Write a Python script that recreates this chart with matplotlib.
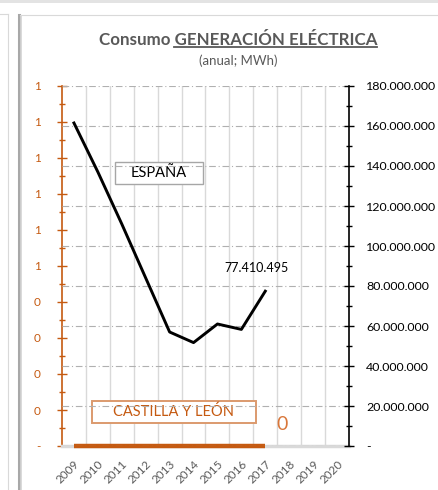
import math
import matplotlib
matplotlib.use("Agg")
import matplotlib.pyplot as plt
from matplotlib.lines import Line2D
from matplotlib.patches import Rectangle
from matplotlib.ticker import MultipleLocator, FixedLocator, FuncFormatter

plt.rcParams['font.family'] = ['Lato', 'DejaVu Sans']

years = [str(y) for y in range(2009, 2021)]
espana = [161.5e6, 137.0e6, 111.0e6, 84.0e6, 57.0e6, 51.7e6, 61.0e6, 58.3e6, 77410495]
castilla = [0, 0, 0, 0, 0, 0, 0, 0, 0]
espana_label = "77.410.495"
castilla_label = "0"

ORANGE = "#C55A11"
GREY_TXT = "#595959"

W, H = 439, 490
fig = plt.figure(figsize=(W / 100, H / 100), dpi=100)

# panel decorations (screenshot frame)
fig.add_artist(Rectangle((0, 1 - 3 / H), 1, 3 / H, transform=fig.transFigure, color="#e3e3e3", lw=0))
fig.add_artist(Line2D([8 / W, 8 / W], [0, 1 - 14 / H], transform=fig.transFigure, color="#d9d9d9", lw=0.8))
fig.add_artist(Line2D([0, 8 / W], [1 - 14 / H, 1 - 14 / H], transform=fig.transFigure, color="#d9d9d9", lw=0.8))
fig.add_artist(Line2D([19.5 / W, 19.5 / W], [0, 1 - 15 / H], transform=fig.transFigure, color="#a8a8a8", lw=2.2))
fig.add_artist(Line2D([21.5 / W, 21.5 / W], [0, 1 - 16 / H], transform=fig.transFigure, color="#d4d4d4", lw=1.2))
fig.add_artist(Line2D([20 / W, 1], [1 - 15 / H, 1 - 15 / H], transform=fig.transFigure, color="#d9d9d9", lw=0.8))

ax = fig.add_axes([62 / W, 44 / H, 287 / W, 360 / H])
axr = ax.twinx()

x = list(range(len(espana)))

# Castilla y León on the left (secondary) axis
ax.plot(range(len(castilla)), castilla, color=ORANGE, lw=3.2, solid_capstyle="butt", zorder=5, clip_on=False)
ax.set_ylim(0, 1)
ax.set_xlim(-0.5, len(years) - 0.5)
ax.yaxis.set_major_locator(MultipleLocator(0.1))
ax.yaxis.set_minor_locator(MultipleLocator(0.05))


def left_fmt(v, pos):
    if abs(v) < 1e-9:
        return "-"
    return str(int(math.floor(v + 0.5 + 1e-9)))


ax.yaxis.set_major_formatter(FuncFormatter(left_fmt))
ax.tick_params(axis="y", which="major", colors=ORANGE, labelsize=8.5, direction="inout", length=7, width=1, pad=12)
ax.tick_params(axis="y", which="minor", colors=ORANGE, direction="inout", length=5, width=1)

ax.set_xticks(range(len(years)))
ax.set_xticklabels(years, rotation=45, ha="right", rotation_mode="anchor", color=GREY_TXT, fontsize=8.5)
ax.tick_params(axis="x", which="major", length=0, pad=9)
ax.xaxis.set_minor_locator(FixedLocator([i + 0.5 for i in range(len(years) - 1)]))
ax.tick_params(axis="x", which="minor", length=0)
ax.grid(axis="x", which="minor", color="#d9d9d9", lw=1)

for s in ["top", "right"]:
    ax.spines[s].set_visible(False)
ax.spines["left"].set_color(ORANGE)
ax.spines["left"].set_linewidth(1.2)
ax.spines["bottom"].set_color("#d9d9d9")
ax.spines["bottom"].set_linewidth(2.5)

# España on the right (primary) axis
axr.plot(x, espana, color="black", lw=2.1, zorder=4)
axr.set_ylim(0, 180e6)
axr.yaxis.set_major_locator(MultipleLocator(20e6))
axr.yaxis.set_minor_locator(MultipleLocator(10e6))


def right_fmt(v, pos):
    if abs(v) < 1:
        return "-"
    return f"{v:,.0f}".replace(",", ".")


axr.yaxis.set_major_formatter(FuncFormatter(right_fmt))
axr.tick_params(axis="y", which="major", colors="black", labelsize=8.9, direction="inout", length=7, width=1, pad=9)
axr.tick_params(axis="y", which="minor", colors="black", direction="inout", length=5, width=1)
axr.grid(axis="y", which="major", color="#b0b0b0", lw=0.8, linestyle=(0, (6, 2.5, 1, 2.5)))
for s in ["top", "left", "bottom"]:
    axr.spines[s].set_visible(False)
axr.spines["right"].set_color("black")
axr.spines["right"].set_linewidth(1.2)

axr.annotate(espana_label, (x[-1], espana[-1]), xytext=(-6, 17), textcoords="offset points",
             ha="center", va="center", fontsize=9, color="black")

# series name boxes
ax.add_patch(Rectangle((0.1847, 0.7278), 0.3066, 0.0611, transform=ax.transAxes, fill=True,
                       facecolor="white", edgecolor="#a6a6a6", lw=1, zorder=6, clip_on=False))
ax.text(0.338, 0.7583, "ESPAÑA", transform=ax.transAxes, ha="center", va="center",
        fontsize=10.5, color="black", zorder=7)
ax.add_patch(Rectangle((0.1045, 0.0639), 0.5715, 0.0619, transform=ax.transAxes, fill=True,
                       facecolor="white", edgecolor="#dc9a6e", lw=1.4, zorder=6, clip_on=False))
ax.text(0.390, 0.0948, "CASTILLA Y LEÓN", transform=ax.transAxes, ha="center", va="center",
        fontsize=10.5, color=ORANGE, zorder=7)
ax.text(0.766, 0.06, castilla_label, transform=ax.transAxes, ha="center", va="center",
        fontsize=14, color="#D9773A", zorder=7)

# title with underlined part
title_full = "Consumo GENERACIÓN ELÉCTRICA"
title_part = "GENERACIÓN ELÉCTRICA"
t = fig.text(238 / W, 1 - 45 / H, title_full, ha="center", va="baseline", fontsize=12.2,
             fontweight="bold", color=GREY_TXT)
fig.canvas.draw()
renderer = fig.canvas.get_renderer()
bb = t.get_window_extent(renderer)
tmp = fig.text(0, 0, title_part, fontsize=12.2, fontweight="bold")
w_part = tmp.get_window_extent(renderer).width
tmp.remove()
uy = 1 - 47.5 / H
fig.add_artist(Line2D([(bb.x1 - w_part) / W, bb.x1 / W], [uy, uy], transform=fig.transFigure,
                      color=GREY_TXT, lw=1.3))

fig.text(238 / W, 1 - 61 / H, "(anual; MWh)", ha="center", va="center", fontsize=9.5, color=GREY_TXT)

fig.savefig("out.png", dpi=100)
